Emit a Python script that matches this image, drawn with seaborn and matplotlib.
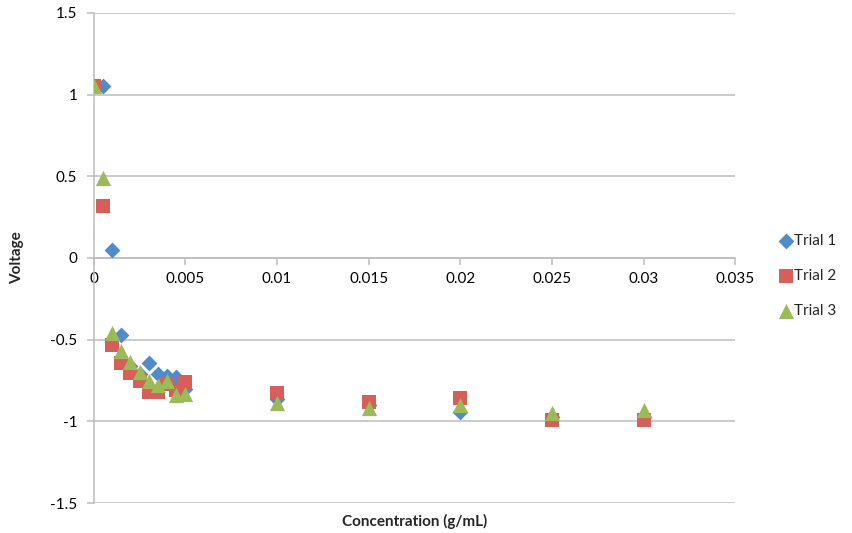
import pandas as pd
import matplotlib
matplotlib.use('Agg')
import matplotlib.pyplot as plt
import seaborn as sns

# concentration (g/mL) and voltage readings per trial
conc_t1 = [0.0005, 0.001, 0.0015, 0.002, 0.0025, 0.003, 0.0035, 0.004, 0.0045, 0.005,
           0.01, 0.015, 0.02, 0.025, 0.03]
volt_t1 = [1.05, 0.05, -0.47, -0.66, -0.71, -0.64, -0.71, -0.72, -0.73, -0.80,
           -0.86, -0.90, -0.94, -0.97, -0.97]

conc = [0, 0.0005, 0.001, 0.0015, 0.002, 0.0025, 0.003, 0.0035, 0.004, 0.0045, 0.005,
        0.01, 0.015, 0.02, 0.025, 0.03]
volt_t2 = [1.05, 0.32, -0.53, -0.645, -0.705, -0.75, -0.82, -0.82, -0.77, -0.81, -0.76,
           -0.825, -0.88, -0.855, -0.99, -0.99]
volt_t3 = [1.05, 0.49, -0.46, -0.57, -0.635, -0.695, -0.75, -0.78, -0.75, -0.84, -0.83,
           -0.89, -0.92, -0.90, -0.95, -0.93]

trials = ['Trial 1', 'Trial 2', 'Trial 3']
colors = ['#4F8CC9', '#D65F5A', '#9BBB59']
markers = ['D', 's', '^']
sizes = [65, 110, 120]

df = pd.concat([
    pd.DataFrame({'conc': conc_t1, 'volt': volt_t1, 'trial': trials[0]}),
    pd.DataFrame({'conc': conc, 'volt': volt_t2, 'trial': trials[1]}),
    pd.DataFrame({'conc': conc, 'volt': volt_t3, 'trial': trials[2]}),
])

sns.set_style('white')
plt.rcParams['font.family'] = ['Lato', 'DejaVu Sans']

fig = plt.figure(figsize=(8.53, 5.33), dpi=100)
ax = fig.add_axes([0.110, 0.056, 0.752, 0.920])

# one call per trial so each keeps its own marker size
for t, c, m, s in zip(trials, colors, markers, sizes):
    sns.scatterplot(data=df[df['trial'] == t], x='conc', y='volt', color=c, marker=m,
                    s=s, linewidth=0, label=t, ax=ax, zorder=3)

ax.set_xlim(0, 0.035)
ax.set_ylim(-1.5, 1.5)
ax.set_xticks([0, 0.005, 0.01, 0.015, 0.02, 0.025, 0.03, 0.035])
ax.set_xticklabels(['0', '0.005', '0.01', '0.015', '0.02', '0.025', '0.03', '0.035'])
ax.set_yticks([-1.5, -1, -0.5, 0, 0.5, 1, 1.5])
ax.set_yticklabels(['-1.5', '-1', '-0.5', '0', '0.5', '1', '1.5'])

ax.grid(axis='y', color='#BDBDBD', linewidth=1.1)
ax.grid(axis='x', visible=False)
ax.set_axisbelow(True)

for sp in ['top', 'right']:
    ax.spines[sp].set_visible(False)
ax.spines['bottom'].set_position(('data', 0))
ax.spines['bottom'].set_color('#BDBDBD')
ax.spines['left'].set_color('#BDBDBD')
ax.spines['bottom'].set_linewidth(1.1)
ax.spines['left'].set_linewidth(1.1)

ax.tick_params(axis='both', direction='out', length=5, width=1.1, color='#BDBDBD',
               labelsize=11, labelcolor='black')
ax.tick_params(axis='x', bottom=True, pad=5)
ax.tick_params(axis='y', left=True, pad=7)

ax.set_xlabel('Concentration (g/mL)', fontsize=11, fontweight='bold')
ax.set_ylabel('Voltage', fontsize=11, fontweight='bold')
ax.xaxis.set_label_coords(0.5, -0.022)
ax.yaxis.set_label_coords(-0.108, 0.5)

leg = ax.legend(loc='center left', bbox_to_anchor=(0.905, 0.482),
                bbox_transform=fig.transFigure, frameon=False, fontsize=11,
                handletextpad=0.05, handlelength=1.0, labelspacing=1.4, borderaxespad=0)

fig.savefig('out.png', dpi=100)
